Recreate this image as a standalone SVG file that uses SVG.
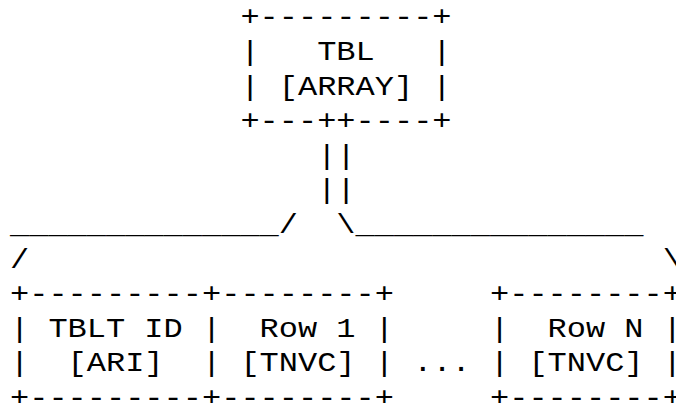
<svg xmlns="http://www.w3.org/2000/svg" width="676" height="403" viewBox="0 0 676 403">
<style>
text{font-family:"Liberation Mono","Courier New",monospace;font-size:27px;fill:#000;white-space:pre}
</style>
<rect width="676" height="403" fill="#fff"/>
<g transform="scale(1.18519,1)">
<g id="tbl">
<text xml:space="preserve" x="202.84" y="25.5">+---------+</text>
<text xml:space="preserve" x="202.84" y="60.1">|   TBL   |</text>
<text xml:space="preserve" x="202.84" y="94.7">| [ARRAY] |</text>
<text xml:space="preserve" x="202.84" y="129.3">+---++----+</text>
</g>
<g id="connectors">
<text xml:space="preserve" x="267.64" y="163.9">||</text>
<text xml:space="preserve" x="267.64" y="198.5">||</text>
<text xml:space="preserve" x="8.44" y="233.1">______________/  \_______________</text>
<text xml:space="preserve" x="8.44" y="267.7">/</text>
<text xml:space="preserve" x="559.24" y="267.7">\</text>
</g>
<g id="tblt-id">
<text xml:space="preserve" x="8.44" y="302.3">+---------+</text>
<text xml:space="preserve" x="8.44" y="336.9">| TBLT ID |</text>
<text xml:space="preserve" x="8.44" y="371.5">|  [ARI]  |</text>
<text xml:space="preserve" x="8.44" y="406.1">+---------+</text>
</g>
<g id="row-1">
<text xml:space="preserve" x="186.64" y="302.3">--------+</text>
<text xml:space="preserve" x="186.64" y="336.9">  Row 1 |</text>
<text xml:space="preserve" x="186.64" y="371.5"> [TNVC] |</text>
<text xml:space="preserve" x="186.64" y="406.1">--------+</text>
</g>
<g id="ellipsis">
<text xml:space="preserve" x="348.64" y="371.5">...</text>
</g>
<g id="row-n">
<text xml:space="preserve" x="413.44" y="302.3">+--------+</text>
<text xml:space="preserve" x="413.44" y="336.9">|  Row N |</text>
<text xml:space="preserve" x="413.44" y="371.5">| [TNVC] |</text>
<text xml:space="preserve" x="413.44" y="406.1">+--------+</text>
</g>
</g>
</svg>
